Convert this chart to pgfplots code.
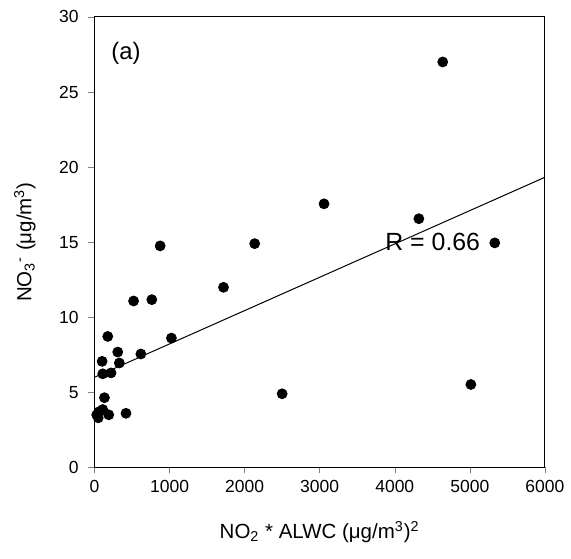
\documentclass[border=0pt]{standalone}
\usepackage{pgfplots}
\pgfplotsset{compat=1.18}
\usepackage{fontspec}
\setmainfont{Liberation Sans}

\begin{document}
\begin{tikzpicture}
\begin{axis}[
    scale only axis,
    width=226.5pt, height=226.5pt,
    xmin=0, xmax=6000, ymin=0, ymax=30,
    xtick={0,1000,...,6000}, ytick={0,5,...,30},
    scaled x ticks=false,
    /pgf/number format/assume math mode=true,
    /pgf/number format/set thousands separator={},
    tick label style={font=\fontsize{8.8}{10}\selectfont},
    y tick label style={xshift=-1.5pt},
    tick align=outside, tick pos=left,
    major tick length=3pt,
    axis line style={line width=0.5pt},
    xlabel={NO\textsubscript{2} * ALWC (μg/m\textsuperscript{3})\textsuperscript{2}},
    ylabel={NO\textsubscript{3}\textsuperscript{-} (μg/m\textsuperscript{3})},
    label style={font=\fontsize{10.3}{12}\selectfont},
    x label style={at={(axis description cs:0.5,-0.1435)}, anchor=center},
    y label style={at={(axis description cs:-0.1545,0.5)}, anchor=center},
    clip=false,
]
% regression line
\addplot[black, line width=0.5pt] coordinates {(0,6.0) (6000,19.32)};

\addplot[only marks, mark=*, mark size=2.5pt, black] coordinates {
    (30,3.5) (50,3.3) (60,3.7) (110,3.85) (190,3.5) (420,3.6)
    (133,4.64) (110,6.23) (221,6.29) (102,7.06) (331,6.95)
    (310,7.68) (618,7.55) (177,8.72) (1025,8.61)
    (521,11.08) (764,11.17) (875,14.75) (1719,11.99) (2134,14.9)
    (2500,4.9) (3058,17.55) (4321,16.56) (4639,27.0)
    (5014,5.52) (5332,14.95)
};

\node[font=\fontsize{12.5}{14}\selectfont] at (axis cs:4506,15.0) {R = 0.66};
\node[font=\fontsize{12}{14}\selectfont] at (axis cs:420,27.6) {(a)};
\end{axis}
\path ([shift={(-47.5pt,-46pt)}]current axis.south west)
    rectangle ([shift={(11.5pt,8.5pt)}]current axis.north east);
\end{tikzpicture}
\end{document}
